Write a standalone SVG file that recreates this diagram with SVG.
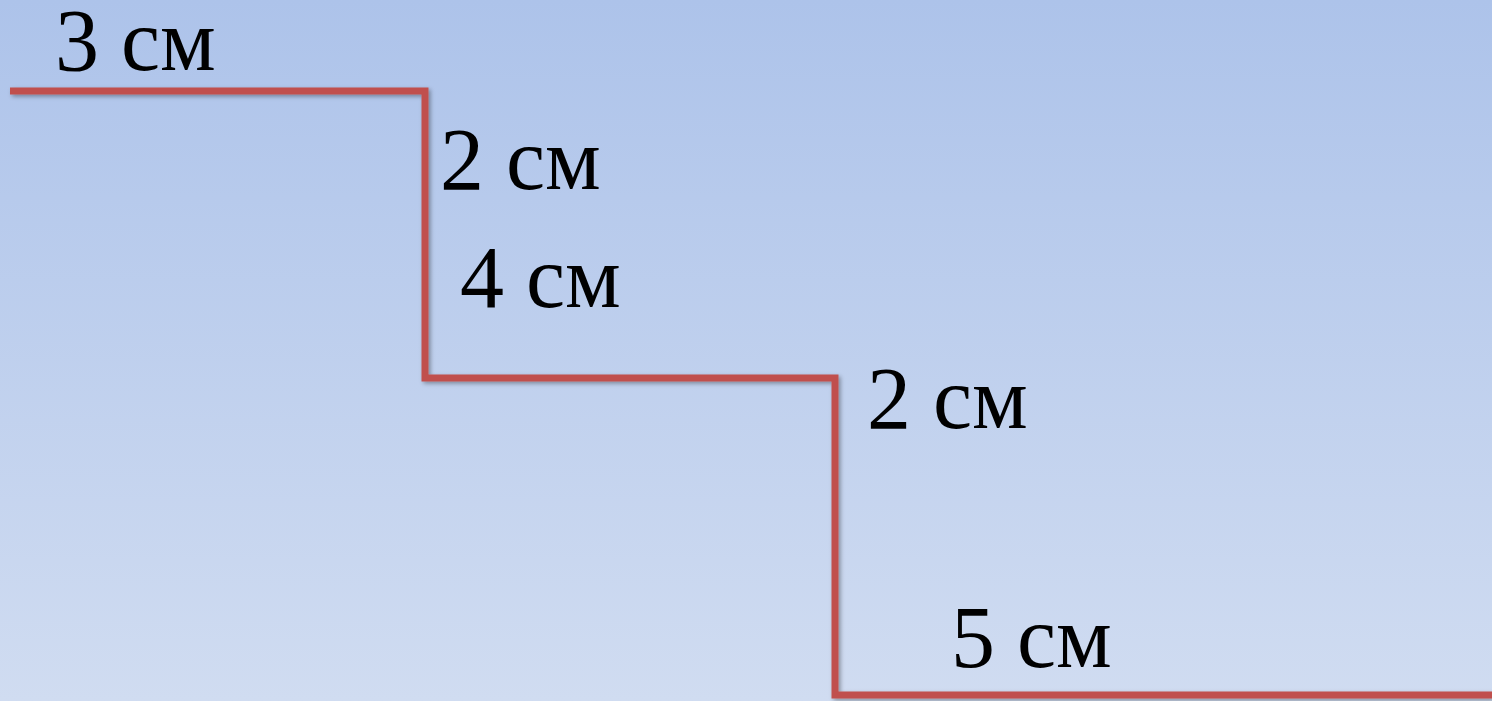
<svg xmlns="http://www.w3.org/2000/svg" width="1492" height="701" viewBox="0 0 1492 701">
  <defs>
    <linearGradient id="bg" x1="0" y1="0" x2="0" y2="1">
      <stop offset="0" stop-color="#adc3ea"/>
      <stop offset="1" stop-color="#d0dcf1"/>
    </linearGradient>
    <filter id="shadow" x="-5%" y="-5%" width="110%" height="110%">
      <feDropShadow dx="2" dy="2" stdDeviation="2" flood-color="#000" flood-opacity="0.35"/>
    </filter>
  </defs>
  <style>
    .lbl { font-family: "Liberation Serif", "DejaVu Serif", serif; font-size: 88px; fill: #000; }
    .step { fill: none; stroke: #c0504d; stroke-width: 7; stroke-linejoin: miter; }
  </style>
  <rect x="0" y="0" width="1492" height="701" fill="url(#bg)"/>
  <g id="connectors">
    <polyline class="step" filter="url(#shadow)" points="10,91 425,91 425,378 835,378 835,695 1492,695"/>
  </g>
  <g id="label-3cm"><text class="lbl" x="55" y="70">3 см</text></g>
  <g id="label-2cm-a"><text class="lbl" x="440" y="189">2 см</text></g>
  <g id="label-4cm"><text class="lbl" x="460" y="307">4 см</text></g>
  <g id="label-2cm-b"><text class="lbl" x="867" y="428">2 см</text></g>
  <g id="label-5cm"><text class="lbl" x="951" y="667">5 см</text></g>
</svg>
